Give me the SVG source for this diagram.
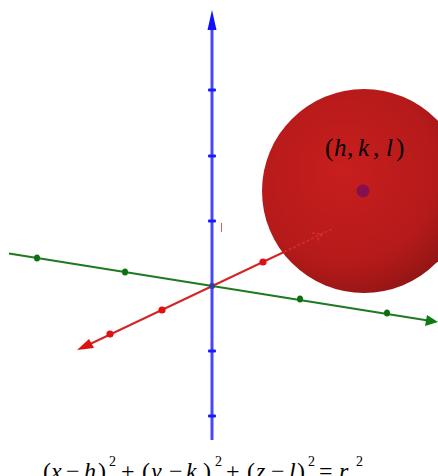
<svg xmlns="http://www.w3.org/2000/svg" width="438" height="476" viewBox="0 0 438 476">
<style>
.math{font-family:"Liberation Serif","Times New Roman",serif;fill:#000;}
.it{font-style:italic;}
.tick{fill:#1a1aff;}
.gdot{fill:#0f6e0f;}
.rdot{fill:#e01010;}
</style>
<defs>
<radialGradient id="sph" cx="0.4" cy="0.4" r="0.7">
<stop offset="0" stop-color="#c81e1e"/>
<stop offset="0.65" stop-color="#b51a1a"/>
<stop offset="1" stop-color="#8a1414"/>
</radialGradient>
</defs>
<rect width="438" height="476" fill="#fff"/>
<g id="connectors">
<g id="axis-y-green">
<line x1="9" y1="253.5" x2="428" y2="320.5" stroke="#1e7a1e" stroke-width="2"/>
<polygon points="438,322 425,326 427,315" fill="#0f7a0f"/>
<ellipse class="gdot" cx="37" cy="258" rx="3" ry="3.6"/>
<ellipse class="gdot" cx="125" cy="272" rx="3" ry="3.6"/>
<ellipse class="gdot" cx="300" cy="299" rx="3" ry="3.6"/>
<ellipse class="gdot" cx="387" cy="313" rx="3" ry="3.6"/>
</g>
<g id="axis-x-red">
<line x1="88" y1="345" x2="284" y2="252" stroke="#d42424" stroke-width="2"/>
<polygon points="77,350 89,339 94,348" fill="#e01010"/>
<circle class="rdot" cx="110" cy="334" r="3.6"/>
<circle class="rdot" cx="162" cy="310" r="3.6"/>
<circle class="rdot" cx="263" cy="262" r="3.6"/>
</g>
</g>
<g id="sphere">
<circle cx="364" cy="191" r="102" fill="url(#sph)"/>
</g>
<g id="axis-x-hidden">
<line x1="284" y1="252" x2="332" y2="229" stroke="#e03030" stroke-width="1.6" stroke-dasharray="3,2" opacity="0.8"/>
<polyline points="312,233 322,234 317,241" fill="none" stroke="#e03030" stroke-width="1.6" stroke-dasharray="3,2" opacity="0.8"/>
</g>
<g id="axis-z-blue">
<line x1="212" y1="26" x2="212" y2="440" stroke="#4646ff" stroke-width="3"/>
<polygon points="212,10 216.5,30 207.5,30" fill="#1010ff"/>
<rect class="tick" x="208" y="88.5" width="8" height="3" rx="1"/>
<rect class="tick" x="208" y="154.5" width="8" height="3" rx="1"/>
<rect class="tick" x="208" y="219.5" width="8" height="3" rx="1"/>
<rect class="tick" x="208" y="349.5" width="8" height="3" rx="1"/>
<rect class="tick" x="208" y="414.5" width="8" height="3" rx="1"/>
<circle cx="212" cy="286" r="3" fill="#3a3a9a"/>
<line x1="221.5" y1="223" x2="221.5" y2="232" stroke="#e06060" stroke-width="1"/>
</g>
<g id="center">
<circle cx="363" cy="191" r="6.5" fill="#86104e"/>
<text class="math" y="156" font-size="25"><tspan x="325">(</tspan><tspan class="it" x="334">h</tspan><tspan x="347">,</tspan><tspan class="it" x="358">k</tspan><tspan x="373">,</tspan><tspan class="it" x="386">l</tspan><tspan x="396">)</tspan></text>
</g>
<g id="equation">
<text class="math" y="479" font-size="24"><tspan x="43">(</tspan><tspan class="it" x="51">x</tspan><tspan x="66">−</tspan><tspan class="it" x="84">h</tspan><tspan x="98">)</tspan><tspan x="109" y="466" font-size="14">2</tspan><tspan x="121" y="479">+</tspan><tspan x="142">(</tspan><tspan class="it" x="151">y</tspan><tspan x="169">−</tspan><tspan class="it" x="186">k</tspan><tspan x="203">)</tspan><tspan x="215" y="466" font-size="14">2</tspan><tspan x="226" y="479">+</tspan><tspan x="247">(</tspan><tspan class="it" x="256">z</tspan><tspan x="271">−</tspan><tspan class="it" x="289">l</tspan><tspan x="297">)</tspan><tspan x="308" y="466" font-size="14">2</tspan><tspan x="319" y="479">=</tspan><tspan class="it" x="339">r</tspan><tspan x="356" y="466" font-size="14">2</tspan></text>
</g>
</svg>
